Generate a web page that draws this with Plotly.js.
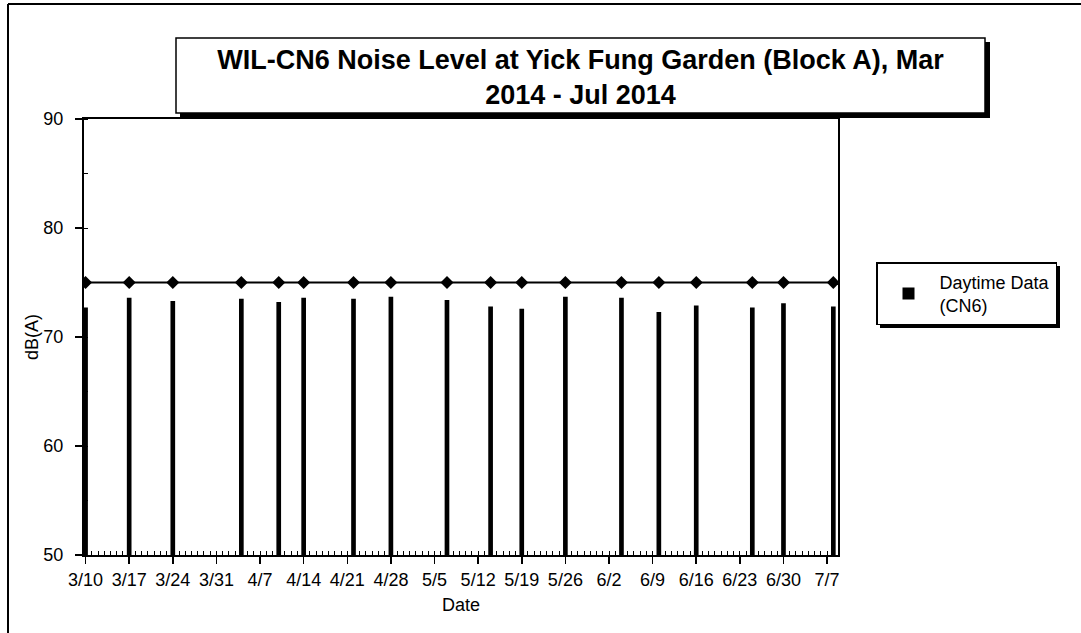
<!DOCTYPE html>
<html lang="en">
<head>
    <meta charset="UTF-8">
    <title>WIL-CN6 Noise Level</title>
    <script src="https://cdn.plot.ly/plotly-3.0.1.min.js"></script>
    <style>
        body {
            margin: 0;
            padding: 0;
            background-color: white;
        }
        #chart {
            width: 1081px;
            height: 633px;
        }
    </style>
</head>
<body>
    <div id="chart"></div>

    <script>
        // measurement dates (Mar - Jul 2014)
        const dates = ['2014-03-10', '2014-03-17', '2014-03-24', '2014-04-04', '2014-04-10', '2014-04-14',
                       '2014-04-22', '2014-04-28', '2014-05-07', '2014-05-14', '2014-05-19', '2014-05-26',
                       '2014-06-04', '2014-06-10', '2014-06-16', '2014-06-25', '2014-06-30', '2014-07-08'];
        // daytime Leq, dB(A)
        const daytime = [72.7, 73.6, 73.3, 73.5, 73.2, 73.6, 73.5, 73.7, 73.4,
                         72.8, 72.6, 73.7, 73.6, 72.3, 72.9, 72.7, 73.1, 72.8];
        // limit level line
        const limitLevel = [75, 75, 75, 75, 75, 75, 75, 75, 75,
                            75, 75, 75, 75, 75, 75, 75, 75, 75];
        const yTicks = [50, 60, 70, 80, 90];

        const DAY = 86400000;
        const font = 'Arial, "Liberation Sans", sans-serif';

        // plot area in pixels: x 84..838, y 119..555
        function px(x) { return (x - 84) / 754; }
        function py(y) { return (555 - y) / 436; }

        const data = [
            {
                type: 'bar',
                name: 'Daytime Data<br>(CN6)',
                x: dates,
                y: daytime,
                width: 0.75 * DAY,
                marker: { color: 'black', line: { width: 0 } }
            },
            {
                type: 'scatter',
                mode: 'lines+markers',
                name: 'Limit',
                x: dates,
                y: limitLevel,
                showlegend: false,
                line: { color: 'black', width: 2 },
                marker: { symbol: 'diamond', size: 10, color: 'black' }
            }
        ];

        const layout = {
            width: 1081,
            height: 633,
            margin: { l: 84, r: 243, t: 119, b: 78 },
            paper_bgcolor: 'white',
            plot_bgcolor: 'white',
            font: { family: font, color: 'black', size: 18 },
            showlegend: true,
            title: {
                text: '<b>WIL-CN6 Noise Level at Yick Fung Garden (Block A), Mar<br>2014 - Jul 2014</b>',
                font: { family: font, size: 27, color: 'black' },
                xref: 'paper',
                x: px(580.5),
                xanchor: 'center',
                yref: 'container',
                y: 1 - 69 / 633,
                yanchor: 'middle'
            },
            xaxis: {
                type: 'date',
                range: ['2014-03-09 18:00', '2014-07-08 18:00'],
                tick0: '2014-03-10',
                dtick: 7 * DAY,
                tickformat: '%-m/%-d',
                ticks: 'outside',
                ticklen: 7,
                tickwidth: 1.5,
                tickcolor: 'black',
                minor: { dtick: DAY, ticks: 'inside', ticklen: 4, tickwidth: 1, tickcolor: 'black' },
                tickfont: { size: 18 },
                showgrid: false,
                zeroline: false,
                showline: true,
                linecolor: 'black',
                linewidth: 2,
                mirror: true,
                title: { text: 'Date', font: { size: 18 }, standoff: 10 }
            },
            yaxis: {
                range: [50, 90],
                tickvals: yTicks,
                ticks: 'outside',
                ticklen: 7,
                tickwidth: 1.5,
                tickcolor: 'black',
                minor: { dtick: 5, ticks: 'inside', ticklen: 4, tickwidth: 1, tickcolor: 'black' },
                tickfont: { size: 18 },
                ticklabelstandoff: 8,
                showgrid: false,
                zeroline: false,
                showline: true,
                linecolor: 'black',
                linewidth: 2,
                mirror: true,
                title: { text: 'dB(A)', font: { size: 18 }, standoff: 0 }
            },
            legend: {
                x: px(876),
                y: py(262),
                xanchor: 'left',
                yanchor: 'top',
                bgcolor: 'white',
                bordercolor: 'black',
                borderwidth: 1.5,
                itemwidth: 52,
                font: { size: 18 }
            },
            shapes: [
                // outer chart frame (top and left edges)
                { type: 'line', xref: 'paper', yref: 'paper', x0: px(8), x1: px(1081), y0: py(4), y1: py(4),
                  line: { color: 'black', width: 2 } },
                { type: 'line', xref: 'paper', yref: 'paper', x0: px(8), x1: px(8), y0: py(4), y1: py(640),
                  line: { color: 'black', width: 2 } },
                // title box shadow + box
                { type: 'rect', xref: 'paper', yref: 'paper', x0: px(180), x1: px(990), y0: py(118), y1: py(42),
                  fillcolor: 'black', line: { width: 0 } },
                { type: 'rect', xref: 'paper', yref: 'paper', x0: px(176), x1: px(985), y0: py(113), y1: py(38),
                  fillcolor: 'white', line: { color: 'black', width: 1.5 } },
                // legend shadow
                { type: 'rect', xref: 'paper', yref: 'paper', x0: px(880), x1: px(1060), y0: py(328), y1: py(266),
                  fillcolor: 'black', line: { width: 0 } }
            ]
        };

        Plotly.newPlot('chart', data, layout, { staticPlot: true, displayModeBar: false });
    </script>
</body>
</html>
